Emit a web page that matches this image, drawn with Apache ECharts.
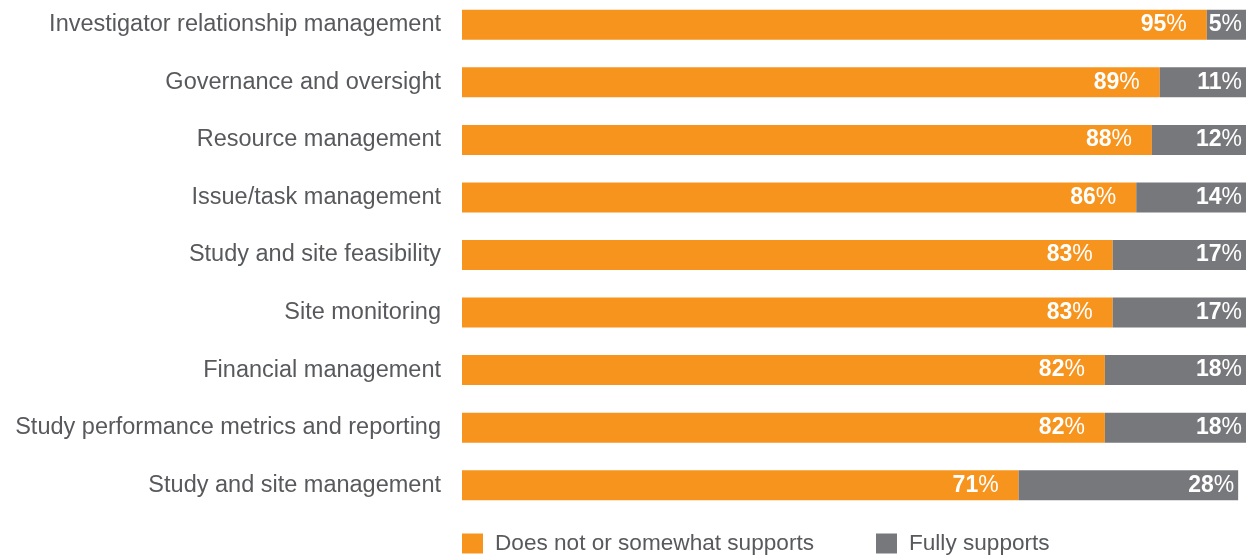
<!DOCTYPE html>
<html>
<head>
<meta charset="utf-8">
<script src="https://cdn.jsdelivr.net/npm/echarts@6/dist/echarts.min.js"></script>
<style>
  html, body { margin: 0; padding: 0; background: #fff; overflow: hidden; }
  /* canvas is nudged up a little so the first bar sits near the top edge */
  #chart { width: 1252px; height: 559px; margin-top: -4px; }
</style>
</head>
<body>
<div id="chart"></div>
<script>
// Capability areas, listed top to bottom
const categories = [
  'Investigator relationship management',
  'Governance and oversight',
  'Resource management',
  'Issue/task management',
  'Study and site feasibility',
  'Site monitoring',
  'Financial management',
  'Study performance metrics and reporting',
  'Study and site management'
];
const seriesNames = ['Does not or somewhat supports', 'Fully supports'];
const partialSupport = [95, 89, 88, 86, 83, 83, 82, 82, 71];
const fullSupport = [5, 11, 12, 14, 17, 17, 18, 18, 28];

const ORANGE = '#F7941E';
const GREY = '#77787B';
const TEXT = '#58595C';
const FONT = '"Liberation Sans", Arial, sans-serif';

const valueLabel = (dist) => ({
  show: true,
  position: 'insideRight',
  distance: dist,
  formatter: '{n|{c}}{p|%}',
  rich: {
    n: { color: '#fff', fontSize: 23, fontWeight: 'bold', fontFamily: FONT },
    p: { color: '#fff', fontSize: 23, fontWeight: 'normal', fontFamily: FONT }
  }
});

const chart = echarts.init(document.getElementById('chart'));
chart.setOption({
  animation: false,
  textStyle: { fontFamily: FONT },
  grid: { left: 462, right: 6, top: 0, height: 518, containLabel: false },
  xAxis: { type: 'value', min: 0, max: 100, show: false },
  yAxis: {
    type: 'category',
    data: categories,
    inverse: true,
    axisLine: { show: false },
    axisTick: { show: false },
    axisLabel: { color: TEXT, fontSize: 23.5, margin: 21, fontFamily: FONT }
  },
  legend: {
    left: 462,
    top: 536,
    padding: 0,
    itemWidth: 21,
    itemHeight: 20,
    itemGap: 62,
    icon: 'rect',
    textStyle: { color: TEXT, fontSize: 22.6, fontFamily: FONT, padding: [0, 0, 0, 7] },
    data: seriesNames
  },
  series: [
    {
      name: seriesNames[0],
      type: 'bar',
      stack: 'total',
      barWidth: 30,
      itemStyle: { color: ORANGE },
      label: valueLabel(20),
      data: partialSupport
    },
    {
      name: seriesNames[1],
      type: 'bar',
      stack: 'total',
      barWidth: 30,
      itemStyle: { color: GREY },
      label: valueLabel(4),
      data: fullSupport
    }
  ]
});
</script>
</body>
</html>
